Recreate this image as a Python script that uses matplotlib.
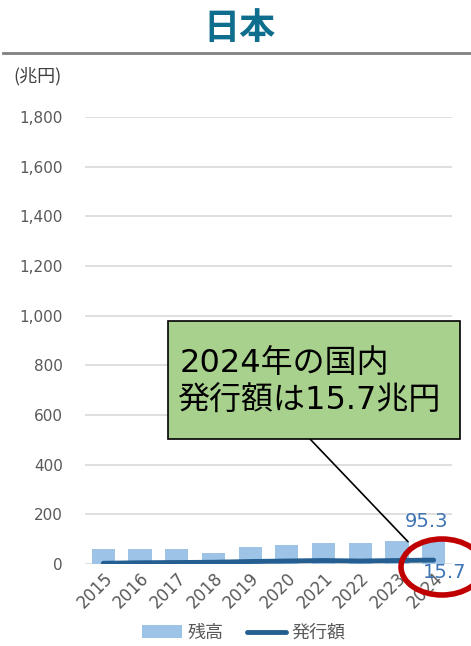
import matplotlib
matplotlib.use("Agg")
import matplotlib.pyplot as plt
from matplotlib.patches import Ellipse, Rectangle
from matplotlib.lines import Line2D

plt.rcParams["font.family"] = ["DejaVu Sans", "Noto Sans CJK JP"]

# === DATA ===
years = ["2015", "2016", "2017", "2018", "2019", "2020", "2021", "2022", "2023", "2024"]
outstanding = [60, 60, 60, 44, 68, 77, 85, 85, 93, 95.3]
issuance = [3, 5, 6, 7, 10, 12, 14, 12, 14, 15.7]
y_ticks = [0, 200, 400, 600, 800, 1000, 1200, 1400, 1600, 1800]

BAR_COLOR = "#9DC3E6"
LINE_COLOR = "#255E91"
GRAY = "#595959"

W, H = 471, 646
fig = plt.figure(figsize=(W / 100, H / 100), dpi=100)
ax = fig.add_axes([85 / W, (H - 564) / H, 367 / W, 447 / H])

x = list(range(len(years)))
bars = ax.bar(x, outstanding, width=0.63, color=BAR_COLOR, zorder=2, label="残高")
line, = ax.plot(x, issuance, color=LINE_COLOR, lw=3.5, solid_capstyle="round", zorder=3,
                label="発行額")

ax.set_xlim(-0.5, len(years) - 0.5)
ax.set_ylim(0, 1800)
ax.set_yticks(y_ticks)
ax.set_yticklabels([f"{v:,}" for v in y_ticks], fontsize=11, color=GRAY)
ax.set_xticks(x)
ax.set_xticklabels(years, rotation=45, ha="right", rotation_mode="anchor",
                   fontsize=12, color=GRAY)
ax.tick_params(length=0, axis="both")
ax.tick_params(axis="y", pad=16)
ax.tick_params(axis="x", pad=4)
ax.grid(axis="y", color="#D9D9D9", lw=1.2, zorder=0)
for s in ax.spines.values():
    s.set_visible(False)

# data labels
ax.text(9 - 0.2, 170, "95.3", ha="center", va="center", fontsize=14, color="#3F74B4")
ax.text(9 + 0.3, -35, "15.7", ha="center", va="center", fontsize=14, color="#3F74B4")

# title and rule
fig.text(240 / W, 1 - 28 / H, "日本", ha="center", va="center", fontsize=26,
         fontweight="bold", color="#0F6E8E", family=["Noto Sans CJK JP"])
fig.add_artist(Line2D([3 / W, 1], [1 - 53 / H, 1 - 53 / H], color="#808080", lw=2))
fig.text(13 / W, 1 - 76 / H, "(兆円)", ha="left", va="center", fontsize=13,
         color="#404040", family=["Noto Sans CJK JP"])

# callout box
box = Rectangle((168 / W, 1 - 439 / H), 292 / W, 118 / H, transform=fig.transFigure,
                facecolor="#A9D18E", edgecolor="black", lw=1.2, zorder=5)
fig.add_artist(box)
fig.text(180 / W, 1 - 363 / H, "2024年の国内", ha="left", va="center", fontsize=23,
         color="black", zorder=6)
fig.text(177 / W, 1 - 401 / H, "発行額は15.7兆円", ha="left", va="center", fontsize=23,
         color="black", zorder=6)
ax.annotate("", xy=(8.3, 90), xycoords="data",
            xytext=(310, H - 439), textcoords="figure pixels",
            arrowprops=dict(arrowstyle="-", color="black", lw=1.2,
                            shrinkA=0, shrinkB=0), zorder=4)

# red ellipse
ell = Ellipse((442 / W, 1 - 567 / H), 82 / W, 56 / H, transform=fig.transFigure,
              facecolor="none", edgecolor="#C00000", lw=4, zorder=7)
fig.add_artist(ell)

# legend
leg = fig.legend([bars, line], ["残高", "発行額"], loc="center",
                 bbox_to_anchor=(244 / W, 1 - 633 / H),
                 ncol=2, frameon=False, fontsize=13, handlelength=2.2,
                 columnspacing=1.3, handletextpad=0.3)
for t in leg.get_texts():
    t.set_color(GRAY)
    t.set_family(["Noto Sans CJK JP"])

fig.savefig("out.png", dpi=100)
